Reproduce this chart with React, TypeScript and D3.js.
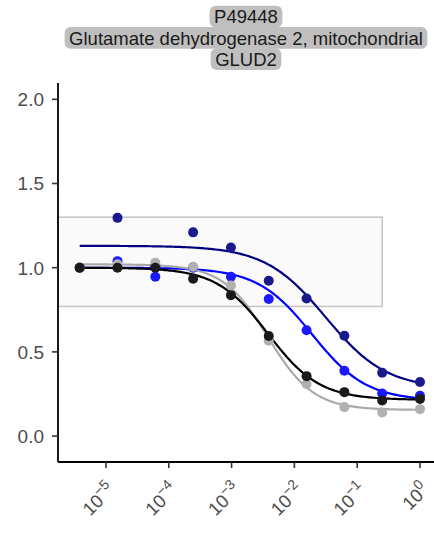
import React, { useLayoutEffect, useRef, useState } from 'react';
import * as d3 from 'd3';

const W = 434;
const H = 533;

const concentrations = [3.815e-6, 1.526e-5, 6.104e-5, 2.441e-4, 9.766e-4, 3.906e-3, 1.5625e-2, 6.25e-2, 0.25, 1];
const navyValues = [1.0, 1.296, 1.01, 1.21, 1.12, 0.922, 0.817, 0.596, 0.376, 0.321];
const blueValues = [1.0, 1.039, 0.946, 1.0, 0.946, 0.814, 0.629, 0.388, 0.253, 0.239];
const greyValues = [1.0, 1.02, 1.03, 1.005, 0.895, 0.566, 0.309, 0.172, 0.14, 0.16];
const blackValues = [1.0, 1.0, 1.0, 0.934, 0.837, 0.594, 0.356, 0.261, 0.212, 0.22];
const seriesValues = [navyValues, blueValues, greyValues, blackValues];

const fitTop = [1.13, 1.0, 1.02, 1.0];
const fitBottom = [0.28, 0.21, 0.155, 0.215];
const fitLogEC50 = [-1.5, -1.72, -2.42, -2.42];
const fitHill = [0.9, 1.0, 1.2, 1.06];

const lineColors = ['#000080', '#0000ff', '#aaaaaa', '#000000'];
const pointColors = ['#1a1a8c', '#1a1aff', '#b0b0b0', '#1a1a1a'];

const yTicks = [0, 0.5, 1.0, 1.5, 2.0];
const xTickExponents = [-5, -4, -3, -2, -1, 0];
const titleLines = ['P49448', 'Glutamate dehydrogenase 2, mitochondrial', 'GLUD2'];
const bandXMax = 0.25;
const bandYMin = 0.77;
const bandYMax = 1.3;

const FONT = '"Liberation Sans", Arial, Helvetica, sans-serif';

const panel = { left: 58, right: 434, top: 83, bottom: 462 };

export default function App() {
  const x = d3.scaleLog().domain([Math.pow(10, -5.764), Math.pow(10, 0.223)]).range([panel.left, panel.right]);
  const y = d3.scaleLinear().domain([-0.154, 2.097]).range([panel.bottom, panel.top]);

  const titleRefs = useRef<(SVGTextElement | null)[]>([]);
  const [widths, setWidths] = useState<number[]>(titleLines.map(() => 0));
  useLayoutEffect(() => {
    setWidths(titleRefs.current.map((t) => (t ? t.getComputedTextLength() : 0)));
  }, []);

  const cx = (panel.left + panel.right) / 2;
  const titleBaselines = [23.3, 44.5, 65.7];

  const lx0 = Math.log10(concentrations[0]);
  const lx1 = Math.log10(concentrations[concentrations.length - 1]);
  const curves = seriesValues.map((_, i) => {
    const pts = d3.range(0, 201).map((k) => {
      const lx = lx0 + ((lx1 - lx0) * k) / 200;
      const v = fitBottom[i] + (fitTop[i] - fitBottom[i]) / (1 + Math.pow(10, fitHill[i] * (lx - fitLogEC50[i])));
      return [Math.pow(10, lx), v] as [number, number];
    });
    return d3.line<[number, number]>().x((d) => x(d[0])).y((d) => y(d[1]))(pts) || '';
  });

  return (
    <div style={{ position: 'absolute', left: 0, top: 0 }}>
      <svg width={W} height={H} style={{ display: 'block', background: '#fff' }} fontFamily={FONT}>
        {titleLines.map((t, i) => (
          <rect
            key={'tb' + i}
            x={cx - widths[i] / 2 - 4.5}
            y={titleBaselines[i] - 17.5}
            width={widths[i] + 9}
            height={21.8}
            rx={6}
            fill="#bfbfbf"
          />
        ))}
        {titleLines.map((t, i) => (
          <text
            key={'tt' + i}
            ref={(el) => { titleRefs.current[i] = el; }}
            x={cx}
            y={titleBaselines[i]}
            textAnchor="middle"
            fontSize={18.5}
            fill="#1a1a1a"
          >
            {t}
          </text>
        ))}

        <rect
          x={panel.left}
          y={y(bandYMax)}
          width={x(bandXMax) - panel.left}
          height={y(bandYMin) - y(bandYMax)}
          fill="#fafafa"
          stroke="#c8c8c8"
          strokeWidth={1.6}
        />

        {curves.map((d, i) => (
          <path key={'c' + i} d={d} fill="none" stroke={lineColors[i]} strokeWidth={2.2} />
        ))}

        {seriesValues.map((vals, i) =>
          vals.map((v, j) => (
            <circle key={'p' + i + '-' + j} cx={x(concentrations[j])} cy={y(v)} r={5} fill={pointColors[i]} />
          ))
        )}

        <line x1={panel.left} x2={panel.left} y1={panel.top} y2={panel.bottom} stroke="#000" strokeWidth={1.8} />
        <line x1={panel.left} x2={panel.right} y1={panel.bottom} y2={panel.bottom} stroke="#000" strokeWidth={1.8} />

        {yTicks.map((t) => (
          <g key={'yt' + t}>
            <line x1={panel.left - 6} x2={panel.left} y1={y(t)} y2={y(t)} stroke="#333" strokeWidth={1.6} />
            <text x={panel.left - 14} y={y(t)} dy="0.36em" textAnchor="end" fontSize={19} fill="#4d4d4d">
              {t.toFixed(1)}
            </text>
          </g>
        ))}

        {xTickExponents.map((e) => {
          const px = x(Math.pow(10, e));
          return (
            <g key={'xt' + e}>
              <line x1={px} x2={px} y1={panel.bottom} y2={panel.bottom + 6} stroke="#333" strokeWidth={1.6} />
              <g transform={`translate(${px + 10},${panel.bottom + 29}) rotate(-45)`}>
                <text textAnchor="end" fontSize={18.5} fill="#4d4d4d">
                  <tspan>10</tspan>
                  <tspan dy={-8} fontSize={14}>{e === 0 ? '0' : '\u2212' + Math.abs(e)}</tspan>
                </text>
              </g>
            </g>
          );
        })}
      </svg>
    </div>
  );
}
